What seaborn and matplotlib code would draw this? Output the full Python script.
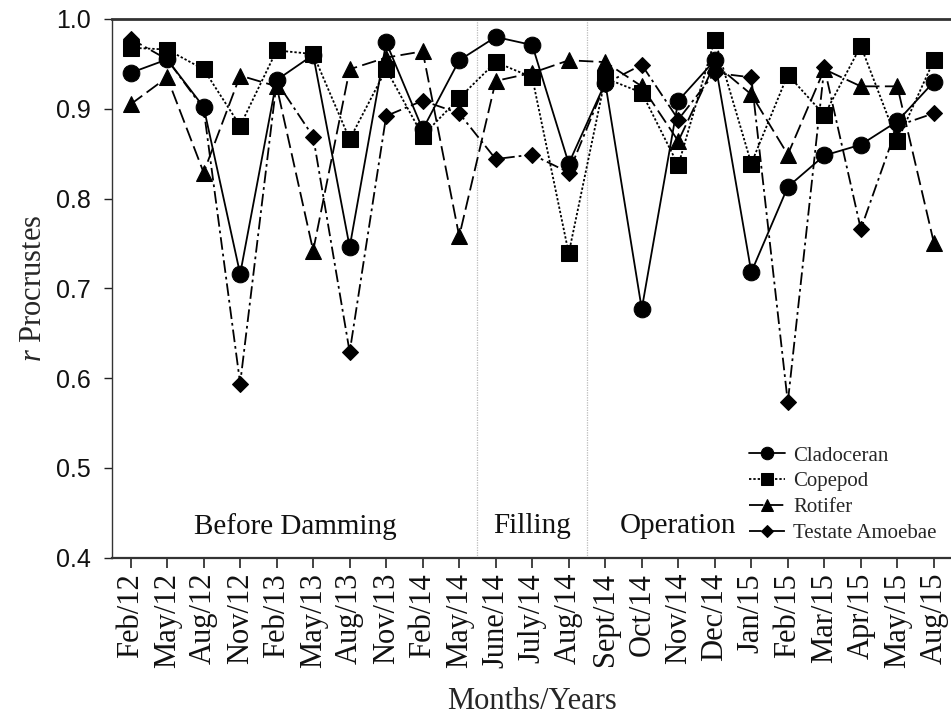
import matplotlib
matplotlib.use("Agg")
import matplotlib.pyplot as plt
import seaborn as sns
import pandas as pd

months = ["Feb/12", "May/12", "Aug/12", "Nov/12", "Feb/13", "May/13", "Aug/13", "Nov/13",
          "Feb/14", "May/14", "June/14", "July/14", "Aug/14", "Sept/14", "Oct/14", "Nov/14",
          "Dec/14", "Jan/15", "Feb/15", "Mar/15", "Apr/15", "May/15", "Aug/15"]

cladoceran = [0.940, 0.955, 0.902, 0.716, 0.932, 0.960, 0.746, 0.974, 0.877, 0.954, 0.980, 0.971,
              0.839, 0.929, 0.677, 0.909, 0.954, 0.718, 0.813, 0.848, 0.860, 0.886, 0.930]
copepod = [0.968, 0.966, 0.944, 0.881, 0.965, 0.961, 0.866, 0.944, 0.870, 0.912, 0.952, 0.935,
           0.739, 0.934, 0.918, 0.837, 0.977, 0.839, 0.938, 0.893, 0.970, 0.864, 0.954]
rotifer = [0.905, 0.935, 0.829, 0.937, 0.925, 0.742, 0.944, 0.957, 0.964, 0.758, 0.931, 0.940,
           0.954, 0.952, 0.925, 0.864, 0.950, 0.916, 0.849, 0.944, 0.925, 0.925, 0.751]
testate = [0.978, 0.955, 0.900, 0.594, 0.930, 0.869, 0.629, 0.892, 0.909, 0.895, 0.844, 0.849,
           0.829, 0.928, 0.949, 0.888, 0.940, 0.935, 0.573, 0.946, 0.766, 0.881, 0.895]

groups = ["Cladoceran", "Copepod", "Rotifer", "Testate Amoebae"]
series = [cladoceran, copepod, rotifer, testate]
periods = ["Before Damming", "Filling", "Operation"]
period_pos = [4.5, 11.0, 15.0]
period_breaks = [9.5, 12.5]

sns.set_theme(style="ticks")
plt.rcParams["font.family"] = ["Liberation Serif", "DejaVu Serif"]
plt.rcParams["mathtext.fontset"] = "custom"
plt.rcParams["mathtext.it"] = "Liberation Serif:italic"

frames = []
for g, vals in zip(groups, series):
    frames.append(pd.DataFrame({"pos": range(len(months)), "value": vals, "group": g}))
df = pd.concat(frames, ignore_index=True)

styles = {
    "Cladoceran": dict(marker="o", markersize=12, dashes=""),
    "Copepod": dict(marker="s", markersize=12, dashes=(1.3, 1.1)),
    "Rotifer": dict(marker="^", markersize=12, dashes=(8, 3)),
    "Testate Amoebae": dict(marker="D", markersize=8.5, dashes=(7, 2.2, 1.5, 2.2)),
}

fig = plt.figure(figsize=(9.51, 7.24), dpi=100)
ax = fig.add_axes([112 / 951, (724 - 557.7) / 724, 839 / 951, (557.7 - 19) / 724])

for g in groups:
    st = styles[g]
    sub = df[df["group"] == g]
    sns.lineplot(data=sub, x="pos", y="value", ax=ax, color="black", lw=1.3,
                 marker=st["marker"], markersize=st["markersize"], markeredgecolor="black",
                 markerfacecolor="black", label=g, dashes=False,
                 linestyle=(0, st["dashes"]) if st["dashes"] else "-",
                 sort=False, zorder=3)

for xb in period_breaks:
    ax.axvline(xb, color="#bbbbbb", lw=0.9, ls=(0, (1, 1)), zorder=1)

for name, xp in zip(periods, period_pos):
    ax.text(xp, 0.435, name, ha="center", va="center", fontsize=21, color="#111111")

ax.set_xlim(-0.51, 22.47)
ax.set_ylim(0.4, 1.0)
ax.set_yticks([0.4, 0.5, 0.6, 0.7, 0.8, 0.9, 1.0])
ax.set_yticklabels(["0.4", "0.5", "0.6", "0.7", "0.8", "0.9", "1.0"],
                   family=["Liberation Sans", "DejaVu Sans"], fontsize=18)
ax.set_xticks(range(len(months)))
ax.set_xticklabels(months, rotation=90, fontsize=22)
ax.tick_params(axis="x", length=7, width=1.2, pad=4, colors="#222222", labelcolor="#111111")
ax.tick_params(axis="y", length=6, width=1.0, pad=9, colors="#222222", labelcolor="#111111")

ax.set_xlabel("Months/Years", fontsize=22, labelpad=14)
ax.set_ylabel(r"$\mathit{r}$ Procrustes", fontsize=22, labelpad=6)

for side in ["left", "bottom", "top"]:
    ax.spines[side].set_visible(True)
    ax.spines[side].set_color("#333333")
ax.spines["left"].set_linewidth(1.0)
ax.spines["bottom"].set_linewidth(1.6)
ax.spines["top"].set_linewidth(2.0)
ax.spines["right"].set_visible(False)

leg = ax.legend(loc="lower right", bbox_to_anchor=(1.0, 0.0), frameon=False, fontsize=15,
                handlelength=1.7, handletextpad=0.4, labelspacing=0.3, markerscale=0.75,
                borderaxespad=0.3)

fig.savefig("out.png", dpi=100)
